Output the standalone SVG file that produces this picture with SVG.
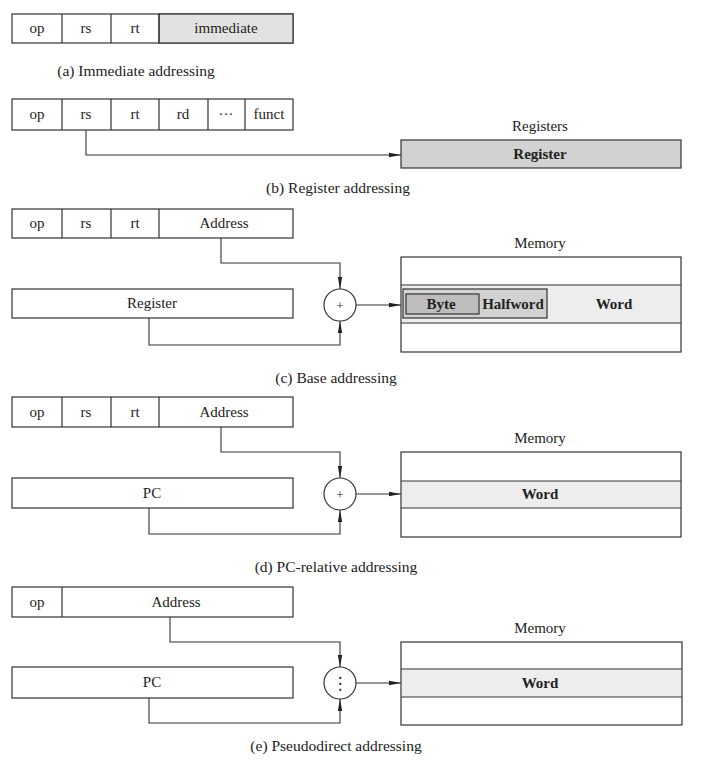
<svg xmlns="http://www.w3.org/2000/svg" width="720" height="762" viewBox="0 0 720 762">
<style>
text{font-family:"Liberation Serif","Times New Roman",serif;font-size:15px;fill:#222;text-anchor:middle}
.cap{font-size:15.5px}
.b{font-weight:bold}
.box{fill:#fff;stroke:#333;stroke-width:1.2}
.ln{fill:none;stroke:#333;stroke-width:1.2}
.wire{fill:none;stroke:#333;stroke-width:1.1;marker-end:url(#ah)}
.g1{fill:#e2e2e2;stroke:#333;stroke-width:1.2}
.g2{fill:#d2d2d2;stroke:#333;stroke-width:1.2}
.g3{fill:#ededed;stroke:none}
.g4{fill:#bdbdbd;stroke:#333;stroke-width:1.2}
</style>
<defs>
<marker id="ah" markerWidth="12" markerHeight="6" refX="12" refY="3" orient="auto" markerUnits="userSpaceOnUse">
<path d="M0,0.8 L12,3 L0,5.2 Z" fill="#222"/>
</marker>
</defs>
<rect width="720" height="762" fill="#fff"/>

<!-- (a) -->
<g id="a-instr">
<rect class="box" x="12" y="14" width="281" height="29"/>
<rect class="g1" x="159" y="14" width="134" height="29"/>
<path class="ln" d="M62,14V43M111,14V43M159,14V43"/>
<text x="37" y="33">op</text><text x="86" y="33">rs</text><text x="135" y="33">rt</text><text x="226" y="33">immediate</text>
</g>
<text class="cap" x="136" y="76">(a) Immediate addressing</text>

<!-- (b) -->
<g id="b-instr">
<rect class="box" x="12" y="99" width="281" height="31"/>
<path class="ln" d="M62,99V130M111,99V130M159,99V130M208,99V130M245,99V130"/>
<text x="37" y="119">op</text><text x="86" y="119">rs</text><text x="135" y="119">rt</text><text x="183" y="119">rd</text><text x="226" y="119">···</text><text x="269" y="119">funct</text>
</g>
<g id="b-registers">
<text x="540" y="131">Registers</text>
<rect class="g2" x="401" y="140" width="280" height="28"/>
<text class="b" x="540" y="159">Register</text>
</g>
<text class="cap" x="338" y="193">(b) Register addressing</text>

<!-- (c) -->
<g id="c-instr">
<rect class="box" x="12" y="209" width="281" height="29"/>
<path class="ln" d="M62,209V238M111,209V238M159,209V238"/>
<text x="37" y="228">op</text><text x="86" y="228">rs</text><text x="135" y="228">rt</text><text x="224" y="228">Address</text>
</g>
<g id="c-reg">
<rect class="box" x="12" y="289" width="281" height="29"/>
<text x="152" y="308">Register</text>
</g>
<g id="c-add">
<circle class="box" cx="340" cy="305" r="16"/>
<text x="340" y="310" style="font-size:13px">+</text>
</g>
<g id="c-mem">
<text x="540" y="248">Memory</text>
<rect class="box" x="401" y="257" width="280" height="95"/>
<rect class="g3" x="402" y="285" width="278" height="38"/>
<path class="ln" d="M401,285H681M401,323H681"/>
<rect class="g2" x="403" y="289" width="144" height="29"/>
<rect class="g4" x="406" y="294" width="73" height="20"/>
<text class="b" x="441" y="309">Byte</text>
<text class="b" x="513" y="309">Halfword</text>
<text class="b" x="614" y="309">Word</text>
</g>
<text class="cap" x="336" y="383">(c) Base addressing</text>

<!-- (d) -->
<g id="d-instr">
<rect class="box" x="12" y="397" width="281" height="30"/>
<path class="ln" d="M62,397V427M111,397V427M159,397V427"/>
<text x="37" y="417">op</text><text x="86" y="417">rs</text><text x="135" y="417">rt</text><text x="224" y="417">Address</text>
</g>
<g id="d-pc">
<rect class="box" x="12" y="478" width="281" height="30"/>
<text x="152" y="498">PC</text>
</g>
<g id="d-add">
<circle class="box" cx="340" cy="494" r="16"/>
<text x="340" y="499" style="font-size:13px">+</text>
</g>
<g id="d-mem">
<text x="540" y="443">Memory</text>
<rect class="box" x="401" y="452" width="280" height="85"/>
<rect class="g3" x="402" y="481" width="278" height="27"/>
<path class="ln" d="M401,481H681M401,508H681"/>
<text class="b" x="540" y="499">Word</text>
</g>
<text class="cap" x="336" y="572">(d) PC-relative addressing</text>

<!-- (e) -->
<g id="e-instr">
<rect class="box" x="12" y="587" width="281" height="30"/>
<path class="ln" d="M62,587V617"/>
<text x="37" y="607">op</text><text x="176" y="607">Address</text>
</g>
<g id="e-pc">
<rect class="box" x="12" y="667" width="281" height="31"/>
<text x="152" y="687">PC</text>
</g>
<g id="e-concat">
<circle class="box" cx="340" cy="683" r="16"/>
<text x="340" y="689" style="font-family:'DejaVu Sans',sans-serif;font-size:17px">⋮</text>
</g>
<g id="e-mem">
<text x="540" y="633">Memory</text>
<rect class="box" x="401" y="642" width="281" height="83"/>
<rect class="g3" x="402" y="669" width="279" height="28"/>
<path class="ln" d="M401,669H682M401,697H682"/>
<text class="b" x="540" y="688">Word</text>
</g>
<text class="cap" x="336" y="751">(e) Pseudodirect addressing</text>

<g id="connectors">
<path class="wire" d="M86,130V155H401"/>
<path class="wire" d="M221,238V263H340V289"/>
<path class="wire" d="M149,318V345H340V321"/>
<path class="wire" d="M356,305H401"/>
<path class="wire" d="M221,427V452H340V478"/>
<path class="wire" d="M149,508V534H340V510"/>
<path class="wire" d="M356,494H401"/>
<path class="wire" d="M170,617V642H340V667"/>
<path class="wire" d="M149,698V723H340V699"/>
<path class="wire" d="M356,683H401"/>
</g>
</svg>
